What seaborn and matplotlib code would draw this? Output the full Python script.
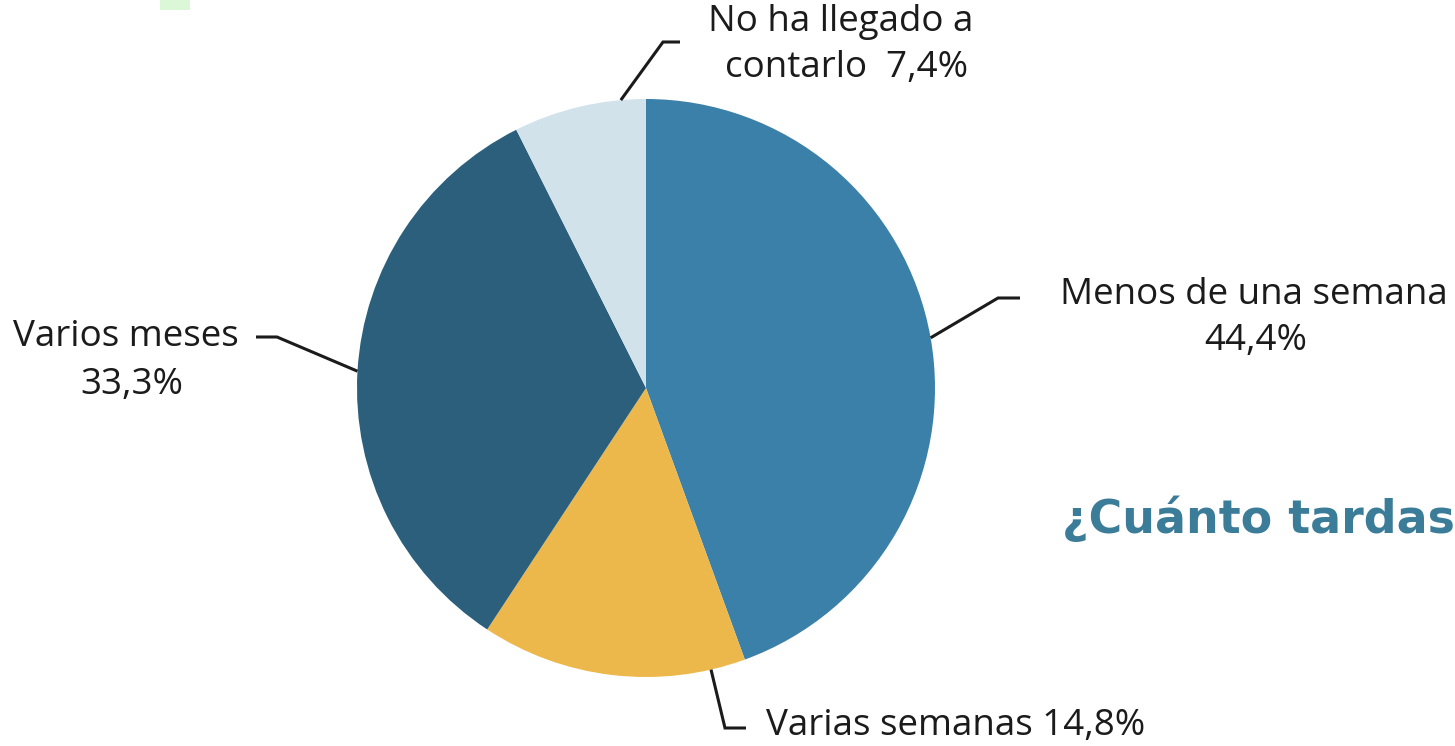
import numpy as np
import matplotlib
matplotlib.use("Agg")
import matplotlib.pyplot as plt
from matplotlib.patches import Rectangle
import seaborn as sns

# Survey answers: how long it took to tell someone
categories = ["Menos de una semana", "Varias semanas", "Varios meses", "No ha llegado a contarlo"]
shares = [44.4, 14.8, 33.3, 7.4]
value_labels = ["44,4%", "14,8%", "33,3%", "7,4%"]
slice_colors = ["#3a80a9", "#ecb84b", "#2b5f7c", "#d1e2eb"]
title_text = "¿Cuánto tardas"

sns.set_theme(style="white")
plt.rcParams["font.family"] = ["Open Sans", "DejaVu Sans"]

W, H = 1455, 746
fig = plt.figure(figsize=(W / 100, H / 100), dpi=100)
ax = fig.add_axes([0, 0, 1, 1])

def py(y):
    # pixel row (from top) -> data y (from bottom)
    return H - y

cx, cy, r = 646, 388, 289
wedges, _ = ax.pie(shares, colors=slice_colors, startangle=90, counterclock=False,
                   center=(cx, py(cy)), radius=r,
                   wedgeprops=dict(linewidth=0))
ax.set_xlim(0, W)
ax.set_ylim(0, H)
ax.set_aspect("equal")
ax.axis("off")

# small green swatch at the top left
ax.add_patch(Rectangle((160, py(10)), 30, 10, color="#dcf6d8", lw=0, zorder=0))

line_kw = dict(color="#1b1b1b", lw=2.2, solid_capstyle="butt", solid_joinstyle="miter")
fs = 26.5

def edge_point(angle_deg):
    # angle measured clockwise from 12 o'clock
    a = np.deg2rad(angle_deg)
    return cx + r * np.sin(a), py(cy - r * np.cos(a))

# cumulative wedge midpoints (clockwise from top)
cum = np.cumsum([0] + shares[:-1])
mids = [(c + s / 2) / sum(shares) * 360 for c, s in zip(cum, shares)]

# Menos de una semana
x0, y0 = edge_point(mids[0])
ax.plot([x0, 998, 1020], [y0, py(298), py(298)], **line_kw)
ax.text(1254, py(295), categories[0], fontsize=fs, ha="center", va="center", color="#1b1b1b")
ax.text(1256, py(341), value_labels[0], fontsize=fs, ha="center", va="center", color="#1b1b1b")

# Varias semanas
x0, y0 = edge_point(167)
ax.plot([x0, 725, 746], [y0, py(728), py(728)], **line_kw)
ax.text(766, py(726), f"{categories[1]} {value_labels[1]}", fontsize=fs,
        ha="left", va="center", color="#1b1b1b")

# Varios meses
x0, y0 = edge_point(mids[2])
ax.plot([x0, 277, 256], [y0, py(337), py(337)], **line_kw)
ax.text(126, py(337), categories[2], fontsize=fs, ha="center", va="center", color="#1b1b1b")
ax.text(132, py(385), value_labels[2], fontsize=fs, ha="center", va="center", color="#1b1b1b")

# No ha llegado a contarlo
x0, y0 = edge_point(355)
ax.plot([x0, 663, 680], [y0, py(42), py(42)], **line_kw)
ax.text(841, py(22), "No ha llegado a", fontsize=fs, ha="center", va="center", color="#1b1b1b")
ax.text(847, py(68), "contarlo  " + value_labels[3], fontsize=fs, ha="center", va="center",
        color="#1b1b1b")

# Heading
ax.text(1062, py(533), title_text, fontsize=33, fontweight="bold", ha="left", va="baseline",
        color="#3b7c99", family=["DejaVu Sans"])

fig.savefig("out.png", dpi=100, facecolor="white")
